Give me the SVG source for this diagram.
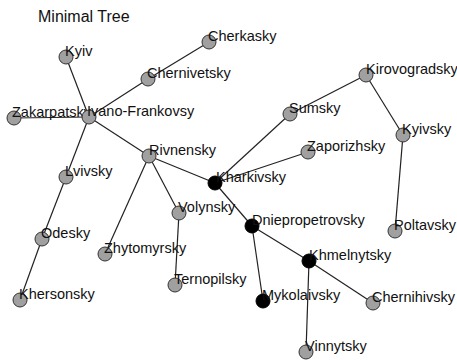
<svg xmlns="http://www.w3.org/2000/svg" width="457" height="360" viewBox="0 0 457 360">
<style>
text{font-family:"Liberation Sans",Arial,sans-serif;font-size:14.5px;fill:#111}
.title{font-size:16px}
.n{fill:#a0a0a0;stroke:#333;stroke-width:1}
.b{fill:#000;stroke:#000;stroke-width:1}
#edges line{stroke:#222;stroke-width:1.2}
</style>
<rect width="457" height="360" fill="#fff"/>
<text class="title" x="38" y="22">Minimal Tree</text>
<g id="edges">
<line x1="66" y1="57" x2="89" y2="117"/>
<line x1="209" y1="42" x2="148" y2="79"/>
<line x1="148" y1="79" x2="89" y2="117"/>
<line x1="14" y1="118" x2="89" y2="117"/>
<line x1="89" y1="117" x2="66" y2="177"/>
<line x1="66" y1="177" x2="42" y2="239"/>
<line x1="42" y1="239" x2="20" y2="300"/>
<line x1="89" y1="117" x2="149" y2="156"/>
<line x1="149" y1="156" x2="215" y2="183"/>
<line x1="149" y1="156" x2="105" y2="254"/>
<line x1="149" y1="156" x2="179" y2="213"/>
<line x1="179" y1="213" x2="175" y2="285"/>
<line x1="215" y1="183" x2="290" y2="114"/>
<line x1="290" y1="114" x2="366" y2="75"/>
<line x1="366" y1="75" x2="403" y2="135"/>
<line x1="403" y1="135" x2="395" y2="231"/>
<line x1="215" y1="183" x2="308" y2="152"/>
<line x1="215" y1="183" x2="252" y2="226"/>
<line x1="252" y1="226" x2="263" y2="301"/>
<line x1="252" y1="226" x2="309" y2="261"/>
<line x1="309" y1="261" x2="373" y2="303"/>
<line x1="309" y1="261" x2="306" y2="352"/>
</g>
<g id="kyiv"><circle class="n" cx="66" cy="57" r="7"/><text x="65" y="56">Kyiv</text></g>
<g id="cherkasky"><circle class="n" cx="209" cy="42" r="7"/><text x="208" y="41">Cherkasky</text></g>
<g id="chernivetsky"><circle class="n" cx="148" cy="79" r="7"/><text x="147" y="78">Chernivetsky</text></g>
<g id="zakarpatsky"><circle class="n" cx="14" cy="118" r="7"/><text x="12" y="117">Zakarpatsky</text></g>
<g id="ivano-frankovsy"><circle class="n" cx="89" cy="117" r="7"/><text x="87" y="116">Ivano-Frankovsy</text></g>
<g id="lvivsky"><circle class="n" cx="66" cy="177" r="7"/><text x="65" y="176">Lvivsky</text></g>
<g id="odesky"><circle class="n" cx="42" cy="239" r="7"/><text x="41" y="238">Odesky</text></g>
<g id="khersonsky"><circle class="n" cx="20" cy="300" r="7"/><text x="19" y="299">Khersonsky</text></g>
<g id="rivnensky"><circle class="n" cx="149" cy="156" r="7"/><text x="149" y="155">Rivnensky</text></g>
<g id="zhytomyrsky"><circle class="n" cx="105" cy="254" r="7"/><text x="104" y="253">Zhytomyrsky</text></g>
<g id="volynsky"><circle class="n" cx="179" cy="213" r="7"/><text x="178" y="212">Volynsky</text></g>
<g id="ternopilsky"><circle class="n" cx="175" cy="285" r="7"/><text x="174" y="284">Ternopilsky</text></g>
<g id="kharkivsky"><circle class="b" cx="215" cy="183" r="7"/><text x="216" y="182">Kharkivsky</text></g>
<g id="sumsky"><circle class="n" cx="290" cy="114" r="7"/><text x="289" y="113">Sumsky</text></g>
<g id="kirovogradsky"><circle class="n" cx="366" cy="75" r="7"/><text x="366" y="74">Kirovogradsky</text></g>
<g id="kyivsky"><circle class="n" cx="403" cy="135" r="7"/><text x="402" y="134">Kyivsky</text></g>
<g id="poltavsky"><circle class="n" cx="395" cy="231" r="7"/><text x="394" y="230">Poltavsky</text></g>
<g id="zaporizhsky"><circle class="n" cx="308" cy="152" r="7"/><text x="307" y="151">Zaporizhsky</text></g>
<g id="dniepropetrovsky"><circle class="b" cx="252" cy="226" r="7"/><text x="252" y="225">Dniepropetrovsky</text></g>
<g id="mykolaivsky"><circle class="b" cx="263" cy="301" r="7"/><text x="262" y="300">Mykolaivsky</text></g>
<g id="khmelnytsky"><circle class="b" cx="309" cy="261" r="7"/><text x="309" y="260">Khmelnytsky</text></g>
<g id="chernihivsky"><circle class="n" cx="373" cy="303" r="7"/><text x="372" y="302">Chernihivsky</text></g>
<g id="vinnytsky"><circle class="n" cx="306" cy="352" r="7"/><text x="305" y="351">Vinnytsky</text></g>
</svg>
